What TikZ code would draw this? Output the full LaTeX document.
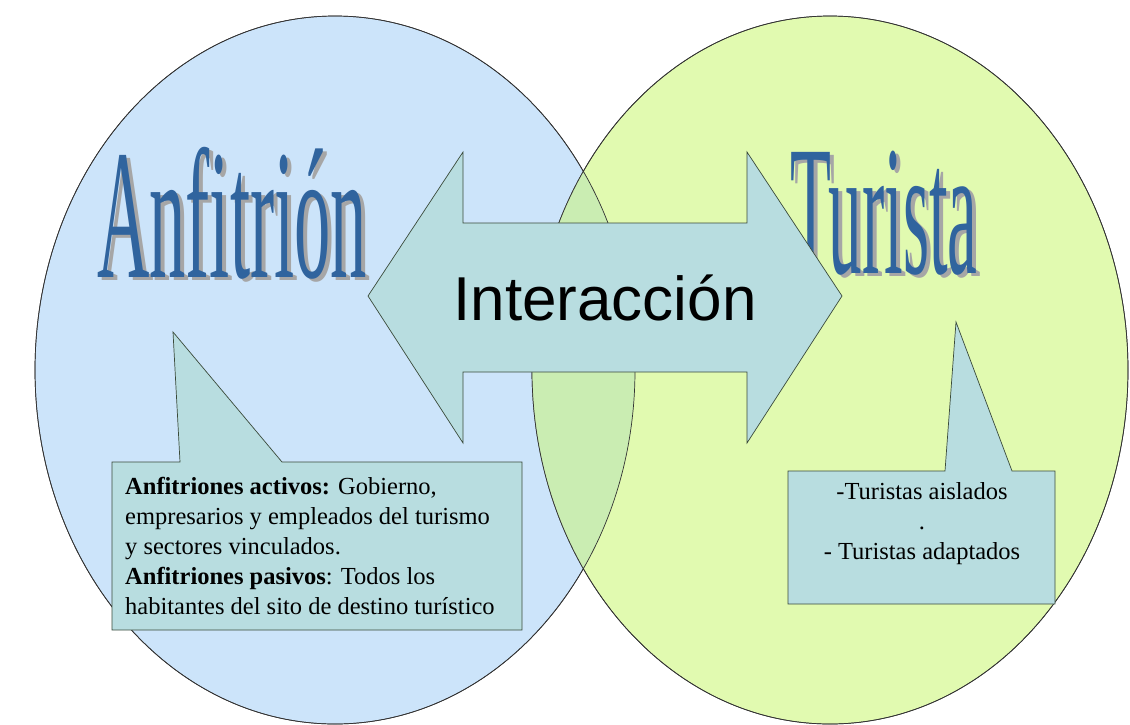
\documentclass[tikz,border=0pt]{standalone}
\usepackage{fontspec}
\setmainfont{Liberation Serif}
\newfontfamily\arial{Liberation Sans}
\usetikzlibrary{shapes.geometric,calc}

\definecolor{hostblue}{HTML}{CCE4FA}
\definecolor{guestgreen}{HTML}{E1FAB0}
\definecolor{meetgreen}{HTML}{CAEDB2}
\definecolor{boxteal}{HTML}{B8DDE0}
\definecolor{wordblue}{HTML}{30649E}
\definecolor{edgegray}{HTML}{3A4A3A}

\tikzset{
  circ/.style={ellipse, draw=black!80, line width=0.7pt, inner sep=0pt},
  bubble/.style={fill=boxteal, draw=edgegray, line width=0.7pt, line join=miter},
  bigword/.style={inner sep=0pt, anchor=base west, font=\fontsize{185}{185}\selectfont},
  note/.style={inner sep=0pt, font=\fontsize{24.5}{30}\selectfont}
}
\newcommand{\shadowed}[4]{% position, scale, name, text
  \node[bigword, text=black!35] at ($#1+(4,3)$) {\scalebox{#2}[1]{#4}};
  \node[bigword, text=wordblue] (#3) at #1 {\scalebox{#2}[1]{#4}};
}

\begin{document}
\begin{tikzpicture}[x=1pt,y=-1pt]
  \useasboundingbox (0,0) rectangle (1130,724);

  % the two sets
  \node[circ, fill=hostblue, minimum width=600, minimum height=708] (anf) at (335,370) {};
  \node[circ, fill=guestgreen, minimum width=596, minimum height=708] (tur) at (830,370) {};
  \begin{scope}
    \clip (anf.center) ellipse (300 and 354);
    \fill[meetgreen] (tur.center) ellipse (298 and 354);
  \end{scope}
  \draw[black!80, line width=0.7pt] (anf.center) ellipse (300 and 354)
                                    (tur.center) ellipse (298 and 354);

  % titles
  \shadowed{(97,277)}{0.392}{host}{Anfitrión}
  \shadowed{(790,273)}{0.362}{guest}{Turista}

  % double arrow
  \draw[bubble] (368,296) -- (463,152) -- (463,223) -- (747,223) -- (747,152)
    -- (842,296) -- (747,443) -- (747,372) -- (463,372) -- (463,443) -- cycle;
  \node[font=\arial\fontsize{62}{62}\selectfont] (inter) at (605,298) {Interacción};

  % callouts
  \draw[bubble] (112,462) -- (180,462) -- (173,332) -- (282,462) -- (522,462)
    -- (522,630) -- (112,630) -- cycle;
  \node[note, anchor=north west, align=left] (hostnote) at (125,477)
    {\textbf{Anfitriones activos:} Gobierno,\\
     empresarios y empleados del turismo\\
     y sectores vinculados.\\
     \textbf{Anfitriones pasivos}: Todos los\\
     habitantes del sito de destino turístico};

  \draw[bubble] (788,471) -- (945,471) -- (956,322) -- (1012,471) -- (1055,471)
    -- (1055,604) -- (788,604) -- cycle;
  \node[note, anchor=north, align=center] (guestnote) at (922,482)
    {-Turistas aislados\\ .\\ - Turistas adaptados};
\end{tikzpicture}
\end{document}
